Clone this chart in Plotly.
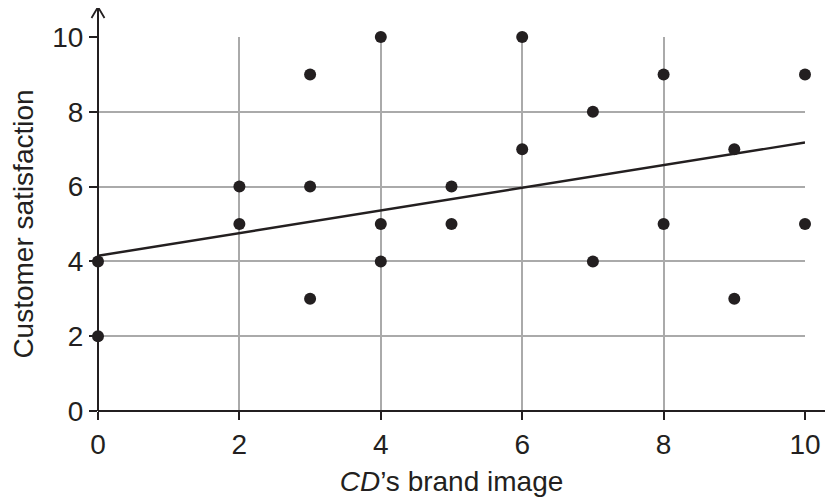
import plotly.graph_objects as go

brand_image = [0, 0, 2, 2, 3, 3, 3, 4, 4, 4, 5, 5, 6, 6, 7, 7, 8, 8, 9, 9, 10, 10]
satisfaction = [4, 2, 6, 5, 9, 6, 3, 10, 5, 4, 6, 5, 10, 7, 8, 4, 9, 5, 7, 3, 9, 5]
trend_x = [0, 10]
trend_y = [4.15, 7.18]
tick_vals = [0, 2, 4, 6, 8, 10]

ink = "#231f20"
W, H = 825, 489          # page body has an 8px margin
ml, mr, mt, mb = 90, 28, 29, 86
pw, ph = W - ml - mr, H - mt - mb

fig = go.Figure()
fig.add_trace(go.Scatter(x=trend_x, y=trend_y, mode="lines",
                         line=dict(color=ink, width=2.4), cliponaxis=False,
                         showlegend=False, hoverinfo="skip"))
fig.add_trace(go.Scatter(x=brand_image, y=satisfaction, mode="markers",
                         marker=dict(color=ink, size=12), cliponaxis=False,
                         showlegend=False))

def px(dx):
    return dx / pw

def py(dy):
    return dy / ph

ytop = 1 + py(30)
xright = 1 + px(34)
shapes = [
    dict(type="line", xref="paper", yref="paper", x0=0, x1=0, y0=0, y1=ytop,
         line=dict(color=ink, width=2)),
    dict(type="line", xref="paper", yref="paper", x0=0, x1=xright, y0=0, y1=0,
         line=dict(color=ink, width=2)),
    dict(type="path", xref="paper", yref="paper",
         path=f"M {-px(6.5)} {ytop - py(11)} L 0 {ytop} L {px(6.5)} {ytop - py(11)}",
         line=dict(color=ink, width=1.8)),
    dict(type="path", xref="paper", yref="paper",
         path=f"M {xright - px(11)} {py(6.5)} L {xright} 0 L {xright - px(11)} {-py(6.5)}",
         line=dict(color=ink, width=1.8)),
]

axis_common = dict(range=[0, 10], tickvals=tick_vals, showgrid=True,
                   gridcolor="#aaaaaa", gridwidth=1.5, zeroline=False,
                   showline=False, ticks="outside", ticklen=8, tickwidth=1.5,
                   tickcolor=ink, tickfont=dict(size=28, color=ink),
                   automargin=False)

fig.update_layout(
    width=W, height=H,
    margin=dict(l=ml, r=mr, t=mt, b=mb, autoexpand=False),
    paper_bgcolor="white", plot_bgcolor="white",
    font=dict(family="Liberation Sans, Arial, sans-serif", color=ink),
    xaxis=dict(**axis_common,
               title=dict(text="<i>CD</i>’s brand image", font=dict(size=28, color=ink), standoff=20)),
    yaxis=dict(**axis_common,
               title=dict(text="Customer satisfaction", font=dict(size=28, color=ink), standoff=16)),
    shapes=shapes,
)

fig.write_html("out.html")
